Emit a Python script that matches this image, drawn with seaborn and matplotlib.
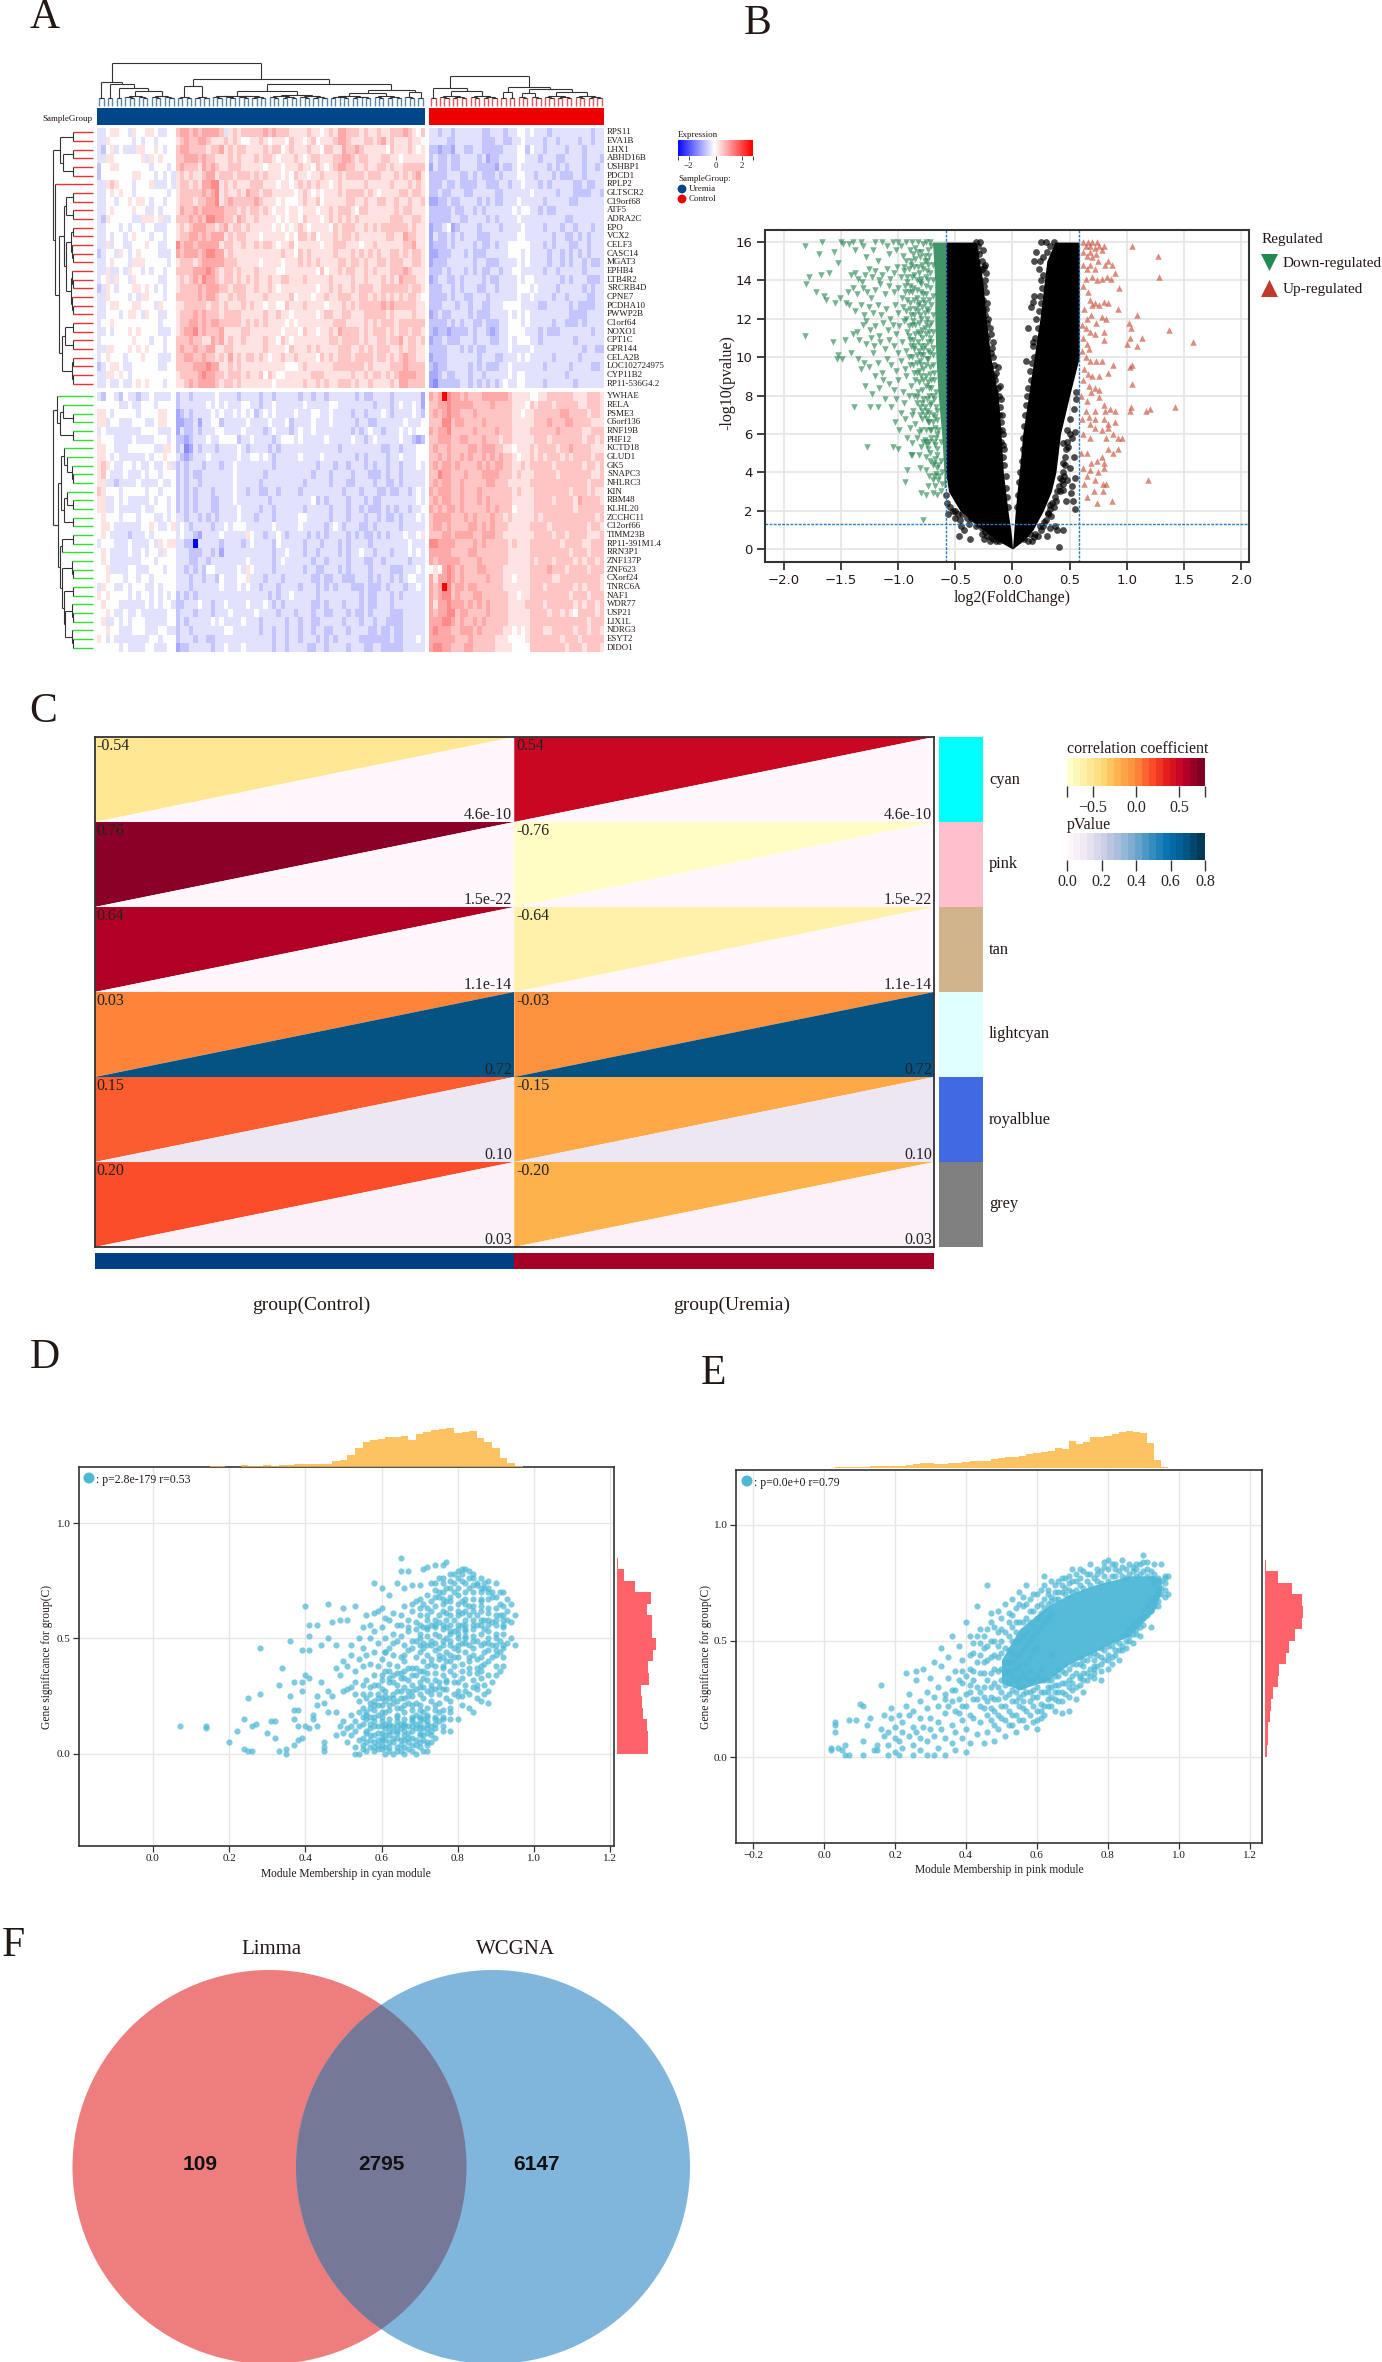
import numpy as np
import matplotlib
matplotlib.use("Agg")
import matplotlib.pyplot as plt
from matplotlib.colors import LinearSegmentedColormap, ListedColormap, Normalize
from matplotlib.cm import ScalarMappable
from matplotlib.patches import Circle, Rectangle
import seaborn as sns

W, H = 1382, 2362

# ---- panel A data: one char per cell, digit d means (d-4)*0.32, x/w strong blue, y strong red
genes_top = ["RPS11", "EVA1B", "LHX1", "ABHD16B", "USHBP1", "PDCD1", "RPLP2", "GLTSCR2", "C19orf68", "ATF5",
             "ADRA2C", "EPO", "VCX2", "CELF3", "CASC14", "MGAT3", "EPHB4", "LTB4R2", "SRCRB4D", "CPNE7",
             "PCDHA10", "PWWP2B", "C1orf64", "NOXO1", "CPT1C", "GPR144", "CELA2B", "LOC102724975", "CYP11B2",
             "RP11-536G4.2"]
genes_bottom = ["YWHAE", "RELA", "PSME3", "C6orf136", "RNF19B", "PHF12", "KCTD18", "GLUD1", "GK5", "SNAPC3",
                "NHLRC3", "KIN", "RBM48", "KLHL20", "ZCCHC11", "C12orf66", "TIMM23B", "RP11-391M1.4", "RRN3P1",
                "ZNF137P", "ZNF623", "CXorf24", "TNRC6A", "NAF1", "WDR77", "USP21", "LIX1L", "NDRG3", "ESYT2",
                "DIDO1"]

uremia_top = [
    "334554435445543344 67767677776356566 66676766655556554565 77666565565566676546 6434",
    "335444443434434444 56766776555656544 55654555465545645556 77655566567565556554 5546",
    "324534333554454344 67766665667565665 55565664565556554665 57667655555465556545 5553",
    "335544444453545444 66777676655565655 56566545556545665556 67765665556655455555 5543",
    "244554444444344434 67666576765566655 55545554555655465456 77665565566565566666 5433",
    "244444445544434343 56565567756665666 56565554546554556555 65666656665556565675 5655",
    "335654443444533343 56656577885656555 66655545545656565545 65555565555565556565 6655",
    "334545443444444434 56666676785655657 66566555554565454555 65666656545555665665 5655",
    "334434454554344344 56665667785676666 67655545444565564555 55665565566556556556 5654",
    "334544445443343444 57667677777666565 66565455455455545565 66654665555556566555 5545",
    "325444443355545334 66676768877665765 56555545455465554565 65656555555566655665 5554",
    "334443434434433344 56567776656756656 55555454545654555546 56665565656666665655 5543",
    "334344345444344344 56677676777565665 55455555454665645556 56656555555665576655 5534",
    "335344334445443344 86776777775665565 56566545564555554556 66555455655555566755 5655",
    "234435434544443334 76777678877565555 55555556554656555556 55565656565566565665 5545",
    "334544435554444434 56665677777666555 55455554555656565555 66566565566566655665 5654",
    "335334354434344344 66667778765665655 56555544555555546455 65665565655566676555 5644",
    "345354435444443344 56567687765665656 56556556655565555565 55565565556565766655 5654",
    "235434445545434344 56666767776656665 56556545555555545565 65565666556666665665 6554",
    "335444434355444344 66666767765565665 55565555564555455655 66655665656565656654 6555",
    "334554445544435444 55666665665655565 65545544655565555455 56565666667676666655 6554",
    "334443455435443344 56667676665666655 55565565545555545665 56655566666565555655 6654",
    "344544444444443444 56677676776666656 56565555454555555556 66555565656665666666 5555",
    "334344454544443334 56778676667555566 55555554555465545565 76666565666565665665 5655",
    "344444445444344344 66676655767565565 55565546545555555566 56666565566566756656 5554",
    "335544454545444344 67667667755665555 55565555465556565555 66655656566655656655 6655",
    "345444344454443334 66776676656575656 65654556556555546565 66656666566565676655 5555",
    "234554334444443344 66667778775565655 55555555444565555556 66666656555566676666 6644",
    "335545434444444444 56666787766566656 55646544555555666555 55565565665656777766 6554",
    "334334334545444344 55676777765665655 55555455555565565655 66656556555565776666 5655",
]
control_top = [
    "3323323333332233323344343332333333333233",
    "3333223333332223322334333323323333233233",
    "2212213322332222233344243323333233323333",
    "2322322333323122333344333233322333323332",
    "1322322333322221322343333332323233323323",
    "2222333223232223233344332333232223323333",
    "2223223222233222332334333232333332232233",
    "2232233322333332233333343333323332222332",
    "1122322333323232233343333323333322333333",
    "2222232233232333333434433232233333333333",
    "2222233223333232333343333333333223333333",
    "1223412333323333233334333323332332333233",
    "1322323233322233333344333333233223232333",
    "1222323333232232334444433323233322332333",
    "1122233323222333334443433332332323232333",
    "1222333333233222333343433332332323323223",
    "2223233323232233233443333323323333323333",
    "1233223233332322333343443333332323332223",
    "2223323233322332333344434333323333323233",
    "2222323322333233333343343333233233332233",
    "2223332332332233344443333223333323222233",
    "1232233332322233334343433333333322223333",
    "2222323233223222334443433333233222323333",
    "2122122223233212334444333232223333333233",
    "1223222333233322334344433233333332333333",
    "2222333232322333334333343333333333323322",
    "1222333333323332233343433333233333233333",
    "2122333332323222334333333323333323333223",
    "1123223332332333334344333333333233333333",
    "1022222332323232343344333323333332333333",
]
uremia_bottom = [
    "324432433233433334 2332333334333323 333233233333233233233 33332322333323333331 33",
    "444443343344434444 2333333434343334 433233433333343333344 33333333233323433431 44",
    "554344444344445544 1232333343433434 342343433334333443343 33323323334323333432 33",
    "553443334443345544 1122313344233333 433334333423333433343 33332332233333343334 33",
    "343333333344443334 1322323334433334 333323433323433433333 33323234332333434344 33",
    "544433334333344434 2212333433444423 343333234443433333433 33343323433333433212 33",
    "554433344444433554 2301323332333343 233332323333333333333 23333333332233233344 43",
    "554343333334344544 3212333433333343 344343233333433334333 33332323333233433344 43",
    "565433443433433453 2323332333233433 333333233333333323332 33233323233233233343 43",
    "564333433343443444 2323223333333433 333323333333333233323 33323332223233233333 45",
    "553323333433334334 2323323333333433 333233333333323333323 33223333233223233333 44",
    "654443444443443444 2323233323333433 233223323333233333333 32333233322322332343 34",
    "553343433333434434 2323233322333433 333332333333333423233 33233323223333333343 34",
    "553343333343344434 2323233322333343 333233233333323333323 33233232223232332334 34",
    "454443444344433434 3323323232333343 332333233333443333323 33233323323223233343 33",
    "455433333344543345 3432333323343444 333333433333433333234 32333223233333233333 43",
    "454333323334344444 3433213333433333 543323343233332323233 33232322323233343345 45",
    "344433343333435455 3322x33333233332 343333243333323332333 23233332333333334333 34",
    "454333343343443544 3332223323133333 333333233433323323333 23233433233323334343 33",
    "454333333344434444 3332233233333333 433333234333333233233 33233322332333332333 34",
    "445333344333444344 3323232443333343 543333233333323322333 23233332333322233343 33",
    "445444344344344444 3332332332433344 533323332333333223223 32223332323323234433 34",
    "354433434443343444 3332333333433343 433233323333233323232 33322232223233323343 33",
    "545444434344343434 2323233333333333 333332323343333323333 33333232233323233333 43",
    "454443333334343443 2233343323343333 433343232333333223233 32333232233323333333 33",
    "445433433433333344 2333233323334333 334333323332333233223 33232232333322233333 34",
    "453343434443333344 2323333343433334 333233333233233223333 32333233233222233333 34",
    "445443334443334433 2332333333344333 333233233233233233223 33233332232232233333 34",
    "543433333333443444 2333233223333333 333333233233233323232 33333222222232233343 33",
    "444443433334433344 1223333323343334 333333233233332233233 33233322332222233333 33",
]
control_bottom = [
    "767y8776766677777765555445566666655566655",
    "6677877777666676666555465666566666556665",
    "6767877666766666666554556666667766665665",
    "6668867766667666666555556667666776666555",
    "7677866666766667666555566666676666655666",
    "6677766776667666566555556665666666656656",
    "6766766667767776655455565666656676666555",
    "6676766767667676766545565656665656666566",
    "6767767666676767766556566666566666656656",
    "6687766676667777666565556666656666666556",
    "6767766766666776665555566666666666665666",
    "7677766766676666666565556666666656665655",
    "6767766766676766666555556666566665766665",
    "7676776766666767666455556666666665666666",
    "6777766676766676656555556566666666666656",
    "6776766667767676665555566665666666665665",
    "6667767777667776655555556666566566665556",
    "8877776666767666665655566666665666655666",
    "7777766667766666665555566666666656665666",
    "7677777666676666665555565666566665656656",
    "4547876766677666655555566667666566665666",
    "7577876766666766655455566666556666666665",
    "767y867767766666655555566656666665656665",
    "7678867666776666665545566666666656665666",
    "7577877767676766665555666656666665656656",
    "7677886776666766665555566665665654666656",
    "7778876766767666665555566666666666665666",
    "7877766777676666655454566655666665665665",
    "7777776667666665554444566666665666566666",
    "7887766677666665555444466666666566656665",
]

sample_names = ["Uremia", "Control"]
sample_colors = ["#00468B", "#ED0000"]

# merge heights of the dendrograms (height, left, right); an int is a small bunch of leaves
tree_uremia = (43, (24, 2, (22, 2, (18, 2, (15, 6, 6)))),
               (27, (20, 4, 4), (22, (15, 13, 14), (16, (13, 10, 7), (14, 3, 2)))))
tree_control = (30, (18, 2, (15, 7, 7)), (19, (14, 2, 2), (17, (13, 3, 3), (14, 7, 7))))
tree_left_top = (40, (33, 2, (30, 2, 2)), (38, 1, (34, (29, (27, 2, 2), (27, 5, 6)), (31, (28, 2, 2), 4))))
tree_left_bottom = (40, (36, 1, (33, (30, 1, 2), 2)),
                    (35, (32, (29, 1, (26, 1, 3)), (29, (26, 1, 2), 2)),
                     (33, (31, 2, 1), (31, 3, (29, 2, (28, 3, 3))))))

# ---- panel B data: "|log2FC|*100,-log10p*10"
fc_thr = 0.585
p_thr = 1.3
core_y = [0, 0.5, 1, 2, 3, 4, 6, 8, 10, 12, 14, 15, 16]
core_left_outer = [0, -0.15, -0.26, -0.46, -0.56, -0.585, -0.585, -0.585, -0.585, -0.585, -0.585, -0.585, -0.585]
core_left_inner = [0, -0.006, -0.015, -0.04, -0.06, -0.08, -0.10, -0.125, -0.19, -0.23, -0.26, -0.29, -0.32]
core_right_inner = [0, 0.006, 0.012, 0.025, 0.04, 0.06, 0.09, 0.14, 0.19, 0.24, 0.28, 0.30, 0.37]
core_right_outer = [0, 0.11, 0.18, 0.27, 0.34, 0.38, 0.42, 0.5, 0.585, 0.585, 0.585, 0.585, 0.585]
green_core_x = [-0.6, -0.6, -0.62, -0.65, -0.67, -0.68, -0.68, -0.7]
green_core_y = [3.2, 4, 6, 8, 10, 12, 14, 16]
down_pts = """182,158 182,111 167,160 169,154 156,155 153,149 150,160 143,159 178,142 168,143 161,144 181,138 172,134
165,132 163,130 155,128 151,131 146,128 157,108 147,109 153,101 154,99 149,99 141,102 135,99 133,94 129,85 123,81
139,74 125,74 118,74 127,53 105,53 100,52 92,41 94,35 89,49 78,15 148,159 140,160 138,156 133,160 131,158 128,152
122,156 120,160 118,150 114,160 110,158 108,154 105,160 102,156 100,160 98,158 96,153 93,160 90,156 88,160 85,157
83,160 80,155 78,159 76,160 74,156 72,160 141,143 138,144 135,141 132,139 129,143 126,146 123,142 120,145 117,140
114,143 110,146 107,141 104,144 101,147 98,142 95,145 92,139 89,148 86,143 83,147 80,141 77,150 75,145 144,134
140,136 136,133 131,136 127,134 124,131 120,135 116,138 112,133 108,137 104,134 100,136 97,131 94,137 91,134 87,136
84,131 81,139 78,133 76,137 143,127 138,124 133,127 130,122 126,126 122,123 118,127 115,122 111,125 107,120 103,127
100,123 96,126 93,120 90,125 86,122 83,127 80,120 77,128 74,124 136,113 131,117 128,119 125,114 120,116 117,111
113,118 109,114 105,117 102,112 99,116 95,119 92,113 88,117 85,112 82,118 79,114 76,118 73,113 140,112 134,109 128,107
124,110 121,106 116,108 112,104 108,109 104,106 100,102 97,108 93,103 90,109 86,104 83,108 80,101 77,106 74,103 71,108
130,97 126,95 122,102 118,97 114,92 110,99 106,96 102,93 98,98 94,94 91,100 87,96 84,92 81,98 78,94 75,99 72,95 70,101
120,90 117,84 113,88 108,86 104,83 100,88 96,82 93,90 89,85 86,80 82,87 79,83 76,90 73,84 71,88 69,92 112,78 106,74
102,78 98,71 95,76 91,80 87,72 84,76 81,70 78,78 75,72 72,75 70,80 67,74 103,66 99,62 94,68 90,63 88,70 85,65 82,61
79,68 76,62 73,66 70,70 68,63 66,67 92,58 88,55 84,58 80,53 77,57 74,52 71,58 68,54 66,60 63,56 88,49 82,49 76,48
72,50 69,45 66,49 63,46 81,42 76,41 73,38 69,38 66,42 62,40 74,33 68,33 65,36 62,34 80,29 76,28 70,29 66,28 63,30
71,158 73,153 75,150 77,153 79,148 81,152 83,155 85,151 87,154 89,150 91,146 93,150 95,147 70,148 72,144 74,148 76,142
78,146 80,138 82,144 84,140 86,147 88,142 90,137 92,142 94,134 70,140 72,136 74,140 76,133 78,130 80,134 82,128 84,135
86,130 88,134 90,128 92,130 70,132 71,127 73,130 75,125 77,123 79,126 81,122 83,124 85,125 87,119 89,122 91,116 93,124
70,122 71,118 73,116 75,120 77,115 79,110 81,112 83,113 85,117 87,109 89,106 91,111 70,113 72,110 74,108 76,112 78,104
80,106 82,103 84,101 86,106 88,100 90,96 70,105 72,102 74,99 76,96 78,101 80,96 82,93 84,97 86,92 70,96 72,91 74,87 76,85
78,88 80,90 83,82 85,88 69,88 71,84 73,80 75,78 77,74 79,76 81,74 84,79 67,82 69,78 71,76 73,71 75,68 77,70 79,72 66,72 68,69
70,66 72,62 74,66 76,56 78,56 80,62 65,62 67,58 69,56 71,62 73,56 75,54 66,52 68,47 70,44 72,46 65,44 67,39 70,36 64,38"""
up_pts = """105,158 127,153 128,142 109,122 102,118 104,115 137,114 158,108 113,110 103,110 100,107 109,106 105,96 103,95
105,86 142,74 120,73 117,72 104,74 103,72 119,36 87,25 74,24 65,27 79,30 79,34 62,160 64,158 66,160 68,158 70,160 72,157
74,160 76,158 78,156 80,158 62,155 65,153 68,155 70,152 73,154 75,150 62,148 65,146 68,148 72,146 81,148 84,150 87,148
90,144 83,142 86,141 93,136 78,141 74,140 70,142 64,141 62,137 66,134 68,130 70,127 72,128 76,127 80,129 84,128 92,125
63,125 65,120 69,122 73,118 78,121 82,120 61,117 64,115 68,113 72,112 80,113 80,109 62,110 65,107 67,104 61,103 64,100
68,98 73,98 78,98 88,96 63,94 66,91 70,90 76,90 84,92 62,88 67,85 72,84 76,79 76,83 60,80 65,77 69,82 80,75 64,72 67,69
72,72 81,72 85,73 90,72 61,68 68,65 72,68 80,68 84,65 84,63 90,66 62,60 68,58 72,63 78,62 82,58 88,60 92,58 96,58 65,50
69,45 74,46 78,48 80,45 84,52 88,50 92,52 60,50 62,42 65,38 68,41 72,36 75,40 80,42 63,34 71,30 82,34"""
black_pts = """-35,16 -32,155 -27,150 -25,147 -24,140 -26,130 -23,125 -22,118 -19,112 -17,108 -13,95 -16,90 -11,85 -15,82 -10,78 -9,70
-8,60 -7,52 -56,18 -50,20 -46,15 -42,10 -47,7 -45,12 -38,13 -37,5 -32,12 -27,8 -25,5 -20,4 -42,24 -36,21 -30,19 -24,13
-18,9 -15,10 -12,4 10,5 15,8 20,8 24,12 28,14 31,19 33,23 41,1 44,10 39,10 37,12 33,11 30,7 55,21 53,25 51,29 47,25 44,31
48,36 52,33 55,37 50,42 46,44 42,37 54,48 49,53 44,45 52,58 48,62 55,61 44,55 50,68 54,73 56,78 19,132 18,129 16,126 14,115
12,98 19,150 21,155 25,160 29,160 18,108 56,82 -28,160 -30,158 -29,154 -26,156 -27,146 -24,148 -23,144 -25,137 -23,134
-22,128 -24,122 -21,120 -20,115 -22,110 -18,105 -19,102 -17,100 -16,96 -14,92 -15,88 -13,84 -12,80 -11,74 -12,70 -10,66
-9,62 -10,56 -8,54 -8,48 -7,44 -6,38 -6,32 -5,27 -4,22 36,160 33,158 30,155 27,152 24,150 23,146 27,143 25,140 26,136 24,132
25,128 23,124 21,120 22,115 20,110 18,106 19,100 17,97 15,93 16,88 14,84 13,80 12,75 11,70 10,64 9,58 9,52 8,46 7,40 6,35
5,28 4,22 44,40 46,48 48,56 50,60 47,52 43,36 41,33 39,30 37,27 35,24 33,21 31,18 29,15 27,12 25,10 22,7 19,6 17,4 14,4 42,30
44,34 45,38 38,25 36,22 34,17 -58,28 -57,24 -55,22 -52,20 -50,16 -48,18 -44,18 -40,16 -36,16 -33,15 -30,13 -27,11 -24,9
-22,7 -19,6 -17,5 -14,4 -32,160 -34,158 -31,150 -28,145 -28,135 -26,125 -25,115 -22,100 -20,95 -18,85 -16,78 -14,72 -12,62"""

# ---- panel D / E data: "x*100,y*100"
d_hist_top_centers = [0.16, 0.18, 0.20, 0.22, 0.24, 0.26, 0.28, 0.30, 0.32, 0.34, 0.36, 0.38, 0.40, 0.42, 0.44, 0.46, 0.48,
                      0.50, 0.52, 0.54, 0.56, 0.58, 0.60, 0.62, 0.64, 0.66, 0.68, 0.70, 0.72, 0.74, 0.76, 0.78, 0.80,
                      0.82, 0.84, 0.86, 0.88, 0.90, 0.92, 0.94, 0.96]
d_hist_top = [2, 2, 1, 1, 5, 2, 3, 5, 4, 5, 6, 8, 9, 9, 9, 8, 17, 20, 35, 52, 70, 76, 78, 83, 84, 86, 75, 92, 97, 103, 106,
              108, 95, 98, 100, 80, 70, 54, 26, 10, 3]
d_hist_right_edges = [0, .05, .1, .15, .2, .25, .3, .35, .4, .45, .5, .55, .6, .65, .7, .75, .8, .85]
d_hist_right = [74, 73, 72, 62, 60, 58, 75, 73, 85, 92, 82, 84, 70, 80, 42, 16, 3]
e_hist_top_centers = [0.00, 0.02, 0.04, 0.06, 0.08, 0.10, 0.12, 0.14, 0.16, 0.18, 0.20, 0.22, 0.24, 0.26, 0.28, 0.30, 0.32,
                      0.34, 0.36, 0.38, 0.40, 0.42, 0.44, 0.46, 0.48, 0.50, 0.52, 0.54, 0.56, 0.58, 0.60, 0.62, 0.64,
                      0.66, 0.68, 0.70, 0.72, 0.74, 0.76, 0.78, 0.80, 0.82, 0.84, 0.86, 0.88, 0.90, 0.92, 0.94, 0.96,
                      0.98]
e_hist_top = [1, 1, 2, 3, 3, 4, 2, 5, 5, 6, 6, 7, 9, 10, 13, 13, 12, 12, 15, 13, 17, 20, 20, 20, 26, 29, 30, 30, 35, 39, 41,
              45, 47, 55, 53, 75, 68, 73, 86, 86, 90, 96, 100, 104, 100, 98, 70, 23, 3, 1]
e_hist_right_edges = [0, .05, .1, .15, .2, .25, .3, .35, .4, .45, .5, .55, .6, .65, .7, .75, .8, .85, .9]
e_hist_right = [5, 6, 8, 11, 14, 20, 30, 34, 50, 56, 72, 87, 90, 88, 64, 30, 3, 1]

d_pts = """7,12 14,12 14,11 20,5 22,10 24,15 24,2 25,1 26,1 26,12 27,13 25,24 28,26 28,46 30,9 31,14 32,14 32,7 33,1 35,0 35,2
37,4 38,6 39,7 37,15 33,30 34,37 36,49 36,25 37,31 39,31 39,45 37,19 38,19 38,12 40,12 41,11 42,15 42,17 43,12 45,5 45,3
45,1 40,64 41,56 43,56 41,51 41,45 44,47 46,65 47,57 46,50 48,47 50,63 53,64 49,58 51,58 39,27 40,34 41,33 44,31 43,21 43,25
45,22 46,27 47,25 48,18 46,18 49,12 50,14 50,9 48,8 51,5 51,11 52,8 53,3 53,0 54,0 55,2 56,5 57,3 58,1 59,4 60,2 61,0 61,3
62,1 63,0 64,3 65,1 66,0 67,2 68,1 69,0 70,3 71,1 72,1 73,5 55,7 56,9 57,11 58,8 59,6 60,9 61,6 62,8 63,5 64,7 65,4 66,8 67,5
68,7 69,4 70,8 71,6 72,9 73,8 74,11 75,14 76,10 78,10 80,15 52,12 53,14 54,12 55,13 56,15 57,13 58,16 59,12 60,14 61,11 62,15
63,12 64,14 65,11 66,15 67,12 68,14 69,11 70,13 71,11 72,14 73,12 74,16 75,18 52,17 54,18 55,20 56,17 57,20 58,19 59,17 60,21
61,18 62,19 63,22 64,17 65,20 66,18 67,22 68,19 69,17 70,21 71,18 72,20 73,23 74,21 75,22 76,19 77,24 78,18 54,23 53,26 56,24
57,26 58,23 59,26 60,24 61,27 62,24 63,26 64,23 65,27 66,24 67,27 68,25 69,22 70,26 71,24 72,27 73,26 74,28 75,26 76,28 77,28
78,23 80,27 79,31 81,21 83,20 84,18 85,24 86,23 88,22 50,27 51,28 52,29 53,31 55,30 56,32 57,29 58,34 59,30 60,32 61,36 62,31
63,34 64,30 65,33 66,29 67,32 68,30 69,34 70,31 71,36 72,32 73,30 74,35 75,31 76,34 77,32 78,36 79,34 80,31 81,33 82,30 83,35
84,32 85,28 86,36 87,30 88,34 89,31 90,34 91,36 92,38 48,37 49,34 50,40 51,38 52,43 53,36 54,41 55,38 56,43 57,39 58,44 59,38
60,41 61,44 62,39 63,43 64,38 65,42 66,40 67,45 68,37 69,42 70,44 71,40 72,43 73,39 74,45 75,41 76,38 77,44 78,40 79,46 80,42
81,39 82,44 83,40 84,46 85,41 86,38 87,44 88,40 89,42 90,38 91,44 92,42 52,47 54,50 55,46 57,50 58,53 59,48 60,55 61,50 62,46
63,52 64,49 65,56 66,47 67,53 68,49 69,57 70,50 71,46 72,54 73,49 74,56 75,51 76,47 77,55 78,49 79,53 80,47 81,56 82,50 83,47
84,54 85,49 86,56 87,48 88,53 89,47 90,52 91,49 92,55 93,48 94,50 95,47 55,55 56,60 57,56 58,61 59,62 60,63 61,59 62,58 63,61
64,56 65,60 66,64 67,58 68,62 69,66 70,60 71,65 72,58 73,62 74,68 75,60 76,65 77,58 78,63 79,70 80,60 81,66 82,58 83,64 84,70
85,60 86,66 87,58 88,63 89,68 90,60 91,65 92,58 93,62 94,65 95,60 94,57 58,74 60,72 62,69 64,74 65,79 66,72 67,79 68,73 71,80
72,81 74,82 75,70 76,76 77,72 78,78 79,74 80,79 81,75 82,80 83,72 84,78 85,73 86,76 87,72 88,75 89,70 90,74 91,70 73,74 74,74
70,73 75,76 76,82 77,83 65,85 68,65 70,67 72,69 70,63 73,66 75,68 77,66 78,68 80,69 82,67 84,64 86,70 88,67 92,56 91,60 90,56
89,57 87,54 85,56 83,60 81,61 79,58 77,61 75,57 73,56 71,55 69,54 67,55 65,51 63,48 61,44 60,34 62,36 64,27 66,33 68,27 70,29
72,35 74,32 76,37 78,43 80,50 82,54 84,58 86,62 88,58 90,45 87,39 85,35 83,42 81,48 79,42 77,50 75,46 73,41 71,33 69,37 67,37
65,35 63,31 61,23 59,21 57,16 55,16 53,10 58,5 60,6 62,5 64,10 66,10 68,10 70,11 72,5 74,7 60,16 62,12 64,16 66,13 68,16 70,16
72,16 74,15 76,15 78,20 80,25 82,27 84,29 86,33 88,27 56,1 57,6 58,3 59,9 60,4 61,8 62,3 63,10 64,1 65,6 66,3 67,9 68,4 69,6 70,5
71,8 72,4 56,10 58,12 60,7 62,10 64,9 66,6 68,12 70,9 72,11 55,4 57,8 59,2 61,13 63,7 65,13 67,7 69,13 71,15 73,10 54,6 58,14
60,12 62,13 64,12 66,12 68,15 70,15 72,13 74,13 76,12 56,18 58,21 60,18 62,21 64,20 66,21 68,21 70,19 72,17 74,19 76,16 78,15
55,26 57,22 59,24 61,25 63,24 65,24 67,25 69,28 71,29 73,28 75,29 77,31 79,26 81,25 83,26 85,30 87,26 58,30 60,28 62,33 64,35
66,36 68,34 70,36 72,38 74,38 76,42 78,47 80,45 82,48 84,43 86,42 88,45 90,47 92,47 66,43 68,46 70,47 72,47 74,48 76,49 78,52
80,52 82,53 84,51 86,52 88,50 90,50 92,52 70,52 72,51 74,52 76,54 78,56 80,56 82,56 84,56 86,58 88,56 90,58 92,60 93,58 72,60
74,58 76,62 78,60 80,62 82,62 84,62 86,64 88,61 90,63 92,64 93,67 72,63 74,64 76,67 78,66 80,65 82,65 84,67 86,67 88,70 90,68
92,70 76,70 78,72 80,72 82,70 84,73 86,72 88,72 74,71 76,74 78,75 80,76 82,74 84,76 81,78 83,76 85,74 87,74 79,78 81,80 83,79
70,56 72,55 74,55 76,56 78,53 80,54 82,51 84,49 86,47 88,48 90,43 92,46 85,37 83,37 81,36 79,38 77,40 75,43 73,47 71,48 69,49"""
e_core_x = [0.50, 0.55, 0.63, 0.69, 0.76, 0.81, 0.86, 0.93, 0.95]
e_core_low = [0.32, 0.29, 0.33, 0.40, 0.45, 0.49, 0.52, 0.63, 0.71]
e_core_high = [0.42, 0.55, 0.65, 0.70, 0.74, 0.76, 0.78, 0.78, 0.77]
e_pts = """2,3 2,4 3,14 3,15 3,11 4,4 5,3 6,1 6,5 7,1 7,16 9,16 10,23 11,22 11,1 11,7 12,14 13,17 14,3 15,3 15,5 16,31 16,12 17,18
17,9 18,1 18,5 18,11 19,17 19,21 20,2 20,8 20,13 21,18 21,1 21,7 22,4 22,11 22,15 23,22 23,36 24,9 24,18 24,27 25,1 25,5
25,13 25,20 26,33 26,11 26,37 27,3 27,8 27,17 27,24 28,13 28,38 29,1 29,7 29,21 29,28 30,12 30,17 30,34 31,1 31,26 31,41
31,9 32,4 32,15 32,22 32,30 33,39 33,12 33,47 34,1 34,8 34,19 34,25 35,34 35,43 36,6 36,14 36,29 36,52 37,3 37,11 37,20
37,37 38,25 38,48 39,8 39,16 39,32 39,42 40,2 40,12 40,22 40,58 41,6 41,28 41,38 41,52 42,17 42,33 42,45 43,10 43,25 43,65
44,15 44,36 44,55 45,6 45,21 45,30 45,47 46,11 46,42 46,74 47,16 47,26 47,36 47,58 48,7 48,20 48,32 48,50 49,12 49,25 49,43
49,63 50,17 50,38 50,55 51,9 51,22 51,31 51,47 52,14 52,27 52,41 52,62 53,18 53,35 53,50 53,68 54,11 54,24 54,44 54,58 55,16
55,30 55,39 55,71 56,21 56,27 56,52 56,65 57,13 57,34 57,60 57,74 58,18 58,24 58,43 58,68 59,15 59,29 59,56 59,63 60,20 60,12
60,26 60,47 60,70 61,17 61,23 61,38 61,66 62,18 62,28 62,58 62,78 63,22 63,33 63,72 64,26 64,44 64,69 65,20 65,31 65,74 66,24
66,35 66,71 67,19 67,28 67,77 68,32 68,73 69,20 69,26 69,78 70,29 70,35 71,25 71,76 72,31 72,81 73,28 73,36 74,33 74,79 75,35
75,83 76,34 76,39 77,81 78,33 78,40 79,84 80,38 80,85 81,40 82,44 82,83 83,42 84,85 85,47 86,83 87,49 88,83 89,52 90,87 91,84
92,56 93,83 94,65 95,83 96,77 96,69 97,78 97,70 92,80 94,72 88,53 86,50 84,46 80,44 76,38 72,35 90,57 34,27 35,22 36,24 37,29
38,19 38,33 39,22 39,37 40,27 40,35 41,18 41,31 41,44 42,25 42,37 42,49 43,30 43,41 43,52 44,22 44,28 44,44 44,49 45,26 45,36
45,41 45,52 46,18 46,24 46,33 46,48 46,55 47,21 47,30 47,43 47,50 47,62 48,14 48,25 48,38 48,44 48,56 49,18 49,30 49,37 49,48
49,54 50,22 50,28 50,33 50,45 50,50 50,60 51,16 51,26 51,36 51,41 51,54 51,66 52,20 52,32 52,37 52,46 52,52 52,58 53,14 53,24
53,29 53,41 53,45 53,56 53,61 54,18 54,28 54,33 54,38 54,50 54,54 54,64 55,22 55,26 55,34 55,44 55,50 55,58 55,66 56,16 56,24
56,30 56,36 56,46 56,58 56,69 57,20 57,28 57,40 57,48 57,54 57,66 58,28 58,33 58,37 58,50 58,58 58,63 59,22 59,26 59,33 59,46
59,52 59,70 60,16 60,30 60,35 60,54 60,60 60,65 61,20 61,28 61,33 61,56 61,62 61,72 62,22 62,33 62,64 62,68 62,74 63,25 63,28
63,30 63,60 63,66 63,70 64,22 64,30 64,33 64,62 64,67 64,76 65,25 65,28 65,35 65,68 65,71 66,28 66,31 66,38 66,68 66,76 67,24
67,32 67,37 67,71 67,74 68,27 68,36 68,40 68,70 68,77 69,30 69,33 69,38 69,72 69,75 70,32 70,40 70,71 70,76 70,81 71,30 71,36
71,40 71,72 71,79 72,34 72,40 72,43 72,74 72,77 73,33 73,39 73,42 73,73 73,80 74,36 74,42 74,76 75,38 75,44 75,74 75,79 76,36
76,42 76,45 76,77 77,39 77,44 77,76 77,79 78,37 78,43 78,47 78,75 78,80 79,42 79,46 79,78 79,82 80,42 80,48 80,76 80,81 81,43
81,48 81,78 81,83 82,46 82,50 82,78 82,81 83,46 83,49 83,80 84,48 84,52 84,78 84,82 85,50 85,53 85,77 85,81 86,52 86,55 86,79
87,53 87,57 87,80 87,82 88,55 88,58 88,78 88,81 89,56 89,60 89,79 89,83 90,60 90,63 90,80 90,84 91,61 91,65 91,78 91,81 92,63
92,67 92,77 93,65 93,69 93,79 93,75 94,67 94,70 94,77 95,70 95,73 95,76 96,72 96,75 96,78"""

# ---- panel C data
modules = ["cyan", "pink", "tan", "lightcyan", "royalblue", "grey"]
module_colors = ["#00FFFF", "#FFC0CB", "#D2B48C", "#E0FFFF", "#4169E1", "#808080"]
groups = ["group(Control)", "group(Uremia)"]
group_colors = ["#023E84", "#A50026"]
cor_control = [-0.54, 0.76, 0.64, 0.03, 0.15, 0.20]
cor_uremia = [0.54, -0.76, -0.64, -0.03, -0.15, -0.20]
pvalues = [4.6e-10, 1.5e-22, 1.1e-14, 0.72, 0.10, 0.03]
pvalue_labels = ["4.6e-10", "1.5e-22", "1.1e-14", "0.72", "0.10", "0.03"]

# ---- panel F data
venn_sets = ["Limma", "WCGNA"]
venn_counts = [109, 2795, 6147]

sns.set_theme(style="white")
plt.rcParams["font.family"] = ["Liberation Serif", "DejaVu Sans"]
plt.rcParams["axes.unicode_minus"] = True
ink = "#231815"
fig = plt.figure(figsize=(W / 100, H / 100), dpi=100)


def axpx(x0, y0, x1, y1):
    return fig.add_axes([x0 / W, 1 - y1 / H, (x1 - x0) / W, (y1 - y0) / H])


page = axpx(0, 0, W, H)
page.set_xlim(0, W)
page.set_ylim(H, 0)
page.axis("off")
page.set_zorder(10)


def txt(x, y, s, size=11, ha="left", va="center", **kw):
    page.text(x, y, s, fontsize=size, ha=ha, va=va, color=kw.pop("color", ink), **kw)


for letter, lx, ly in [("A", 30, 18), ("B", 744, 24), ("C", 29, 712), ("D", 30, 1358), ("E", 701, 1374), ("F", 2, 1946)]:
    txt(lx, ly, letter, size=30)


# ---- A
def decode(rows):
    mapping = {"x": -2.8, "w": -2.0, "y": 2.8}
    out = []
    for r in rows:
        r = r.replace(" ", "")
        out.append([mapping[c] if c in mapping else (int(c) - 4) * 0.32 for c in r])
    return out


def to_matrix(rows, n):
    m = []
    for row in decode(rows):
        row = (row + [0.0] * n)[:n]
        m.append(row)
    return np.array(m)


expr_cmap = LinearSegmentedColormap.from_list("expr", ["#0000FF", "#FFFFFF", "#FF0000"])
n_u, n_c = 75, 40
blocks = [((97, 128, 425, 388), uremia_top, n_u), ((429, 128, 604, 388), control_top, n_c),
          ((97, 392, 425, 652), uremia_bottom, n_u), ((429, 392, 604, 652), control_bottom, n_c)]
for rect, rows, n in blocks:
    ax = axpx(*rect)
    sns.heatmap(to_matrix(rows, n), ax=ax, cmap=expr_cmap, vmin=-2.8, vmax=2.8, cbar=False,
                xticklabels=False, yticklabels=False)

for i, g in enumerate(genes_top):
    txt(607, 128 + (i + 0.5) * 260 / 30, g, size=6.4)
for i, g in enumerate(genes_bottom):
    txt(607, 392 + (i + 0.5) * 260 / 30, g, size=6.4)

page.add_patch(Rectangle((97, 108), 328, 17, fc=sample_colors[0], lw=0))
page.add_patch(Rectangle((429, 108), 175, 17, fc=sample_colors[1], lw=0))
txt(93, 119, "SampleGroup", size=6.5, ha="right")


def bunch(n, base, step):
    if n == 1:
        return 1
    a = n // 2
    return (base + step * np.log2(n), bunch(a, base, step), bunch(n - a, base, step))


def draw_tree(tree, to_xy, leaf_color, base, step, leaf_lw=1.0):
    counter = [0]

    def walk(node):
        if isinstance(node, int):
            if node == 1:
                counter[0] += 1
                return counter[0] - 0.5, 0.0, True
            node = bunch(node, base, step)
        h, a, b = node
        pa, ha, la = walk(a)
        pb, hb, lb = walk(b)
        for p, hh, leaf in [(pa, ha, la), (pb, hb, lb)]:
            xs, ys = zip(to_xy(p, hh), to_xy(p, h))
            page.plot(xs, ys, color=leaf_color if leaf else "#333333", lw=leaf_lw if leaf else 0.8,
                      solid_capstyle="butt")
        xs, ys = zip(to_xy(pa, h), to_xy(pb, h))
        page.plot(xs, ys, color="#333333", lw=0.8, solid_capstyle="butt")
        return (pa + pb) / 2, h, False

    walk(tree)


draw_tree(tree_uremia, lambda p, h: (97 + p * 328 / n_u, 106 - h), "#5B86B0", 7.5, 0.8)
draw_tree(tree_control, lambda p, h: (429 + p * 175 / n_c, 106 - h), "#E8545A", 7.5, 0.8)
draw_tree(tree_left_top, lambda p, h: (93 - h, 128 + p * 260 / 30), "#EE3030", 19, 1.2)
draw_tree(tree_left_bottom, lambda p, h: (93 - h, 392 + p * 260 / 30), "#30E030", 19, 1.2)

txt(678, 135, "Expression", size=6.5)
cax = axpx(678, 140, 753, 156)
cb = fig.colorbar(ScalarMappable(Normalize(-2.8, 2.8), expr_cmap), cax=cax, orientation="horizontal")
cb.set_ticks([-2.8, -2, 0, 2, 2.8], labels=["", "\u22122", "0", "2", ""])
cb.ax.tick_params(labelsize=6.5, length=3, width=0.6, pad=1, direction="out", bottom=True)
cb.outline.set_visible(False)
cb.solids.set_edgecolor("face")
txt(678, 179, "SampleGroup:", size=6.5)
for name, col, yy in zip(sample_names, sample_colors, [189, 199]):
    page.add_patch(Circle((682, yy), 4.4, fc=col, lw=0))
    txt(689, yy, name, size=6.5)


# ---- B
def pts(s, sx, sy):
    arr = np.array([p.split(",") for p in s.split()], dtype=float)
    return arr[:, 0] / sx, arr[:, 1] / sy


axb = axpx(765, 230, 1249, 562)
axb.set_xlim(-2.166, 2.07)
axb.set_ylim(-0.68, 16.63)
axb.set_xticks([-2, -1.5, -1, -0.5, 0, 0.5, 1, 1.5, 2])
axb.set_yticks(range(0, 17, 2))
axb.grid(True, color="#E4E4E4", lw=1.2)
axb.set_axisbelow(True)
dx, dy = pts(down_pts, -100, 10)
ux, uy = pts(up_pts, 100, 10)
kx, ky = pts(black_pts, 100, 10)
green = "#2D8A57"
red = "#C8503C"
axb.fill_betweenx(green_core_y, green_core_x, -0.585, color=green, lw=0, alpha=0.9)
sns.scatterplot(x=dx, y=dy, ax=axb, color=green, marker="v", s=22, alpha=0.65, linewidth=0, legend=False)
sns.scatterplot(x=ux, y=uy, ax=axb, color=red, marker="^", s=22, alpha=0.65, linewidth=0, legend=False)
axb.fill_betweenx(core_y, core_left_outer, core_left_inner, color="black", lw=0)
axb.fill_betweenx(core_y, core_right_inner, core_right_outer, color="black", lw=0)
sns.scatterplot(x=kx, y=ky, ax=axb, color="black", s=24, alpha=0.7, linewidth=0, legend=False)
for v in [-fc_thr, fc_thr]:
    axb.axvline(v, color="#2B7BBA", lw=1, ls=(0, (2, 1)))
axb.axhline(p_thr, color="#2B7BBA", lw=1, ls=(0, (2, 1)))
for s in axb.spines.values():
    s.set_color("#333333")
    s.set_linewidth(1.5)
axb.tick_params(length=6, width=1.3, color="#333333", bottom=True, left=True, labelsize=9.5, pad=3)
for t in axb.get_xticklabels() + axb.get_yticklabels():
    t.set_family("DejaVu Sans")
    t.set_color(ink)
txt(1012, 598, "log2(FoldChange)", size=11.5, ha="center")
txt(727, 383, "-log10(pvalue)", size=11.5, ha="center", rotation=90)
txt(1262, 240, "Regulated", size=11)
page.scatter([1269.5], [262], marker="v", s=150, color="#218A50", lw=0)
page.scatter([1269.5], [288], marker="^", s=150, color="#C0392B", lw=0)
txt(1283, 264, "Down-regulated", size=11)
txt(1283, 290, "Up-regulated", size=11)

# ---- C
cor_cmap = plt.get_cmap("YlOrRd").resampled(20)
p_cmap = plt.get_cmap("PuBu").resampled(20)
cor_norm = Normalize(-0.8, 0.8)
p_norm = Normalize(0, 0.8)
axc = axpx(94.5, 737, 934, 1247)
axc.set_xlim(0, 2)
axc.set_ylim(6, 0)
axc.set_xticks([])
axc.set_yticks([])
for col, cors in enumerate([cor_control, cor_uremia]):
    for row, (c, p, lab) in enumerate(zip(cors, pvalues, pvalue_labels)):
        cc = plt.get_cmap("YlOrRd")(cor_norm(c))
        pc = plt.get_cmap("PuBu")(p_norm(p))
        axc.fill([col, col + 1, col], [row, row, row + 1], color=cc, lw=0)
        axc.fill([col + 1, col + 1, col], [row, row + 1, row + 1], color=pc, lw=0)
        axc.text(col + 0.005, row + 0.11, f"{c:.2f}", fontsize=11.5, va="center", ha="left", color="#222222")
        axc.text(col + 0.995, row + 0.92, lab, fontsize=11.5, va="center", ha="right", color="#222222")
for s in axc.spines.values():
    s.set_color("#333333")
    s.set_linewidth(1.3)
    s.set_visible(True)

axm = axpx(939, 737, 983, 1247)
sns.heatmap(np.arange(6).reshape(-1, 1), ax=axm, cmap=ListedColormap(module_colors), cbar=False,
            xticklabels=False, yticklabels=False)
for i, m in enumerate(modules):
    txt(989, 737 + (i + 0.5) * 85, m, size=11.8)
axg = axpx(94.5, 1253, 934, 1269)
sns.heatmap(np.array([[0, 1]]), ax=axg, cmap=ListedColormap(group_colors), cbar=False,
            xticklabels=False, yticklabels=False)
txt(311, 1305, groups[0], size=14, ha="center")
txt(732, 1305, groups[1], size=14, ha="center")

txt(1067, 749, "correlation coefficient", size=11.5)
cax = axpx(1067, 758, 1205, 786)
cb = fig.colorbar(ScalarMappable(cor_norm, cor_cmap), cax=cax, orientation="horizontal")
cb.set_ticks([-0.8, -0.5, 0, 0.5, 0.8], labels=["", "\u22120.5", "0.0", "0.5", ""])
cb.ax.tick_params(labelsize=11.5, length=8, width=1, pad=2, bottom=True, color="#333333")
cb.outline.set_visible(False)
cb.solids.set_edgecolor("face")
txt(1067, 825, "pValue", size=11.5)
cax = axpx(1067, 833, 1205, 860)
cb = fig.colorbar(ScalarMappable(p_norm, p_cmap), cax=cax, orientation="horizontal")
cb.set_ticks([0, 0.2, 0.4, 0.6, 0.8])
cb.ax.tick_params(labelsize=11.5, length=8, width=1, pad=2, bottom=True, color="#333333")
cb.outline.set_visible(False)
cb.solids.set_edgecolor("face")


# ---- D and E
def joint(rect, xlim, ylim, xticks, top_rect, top_max, right_rect, right_max):
    ax = axpx(*rect)
    ax.set_xlim(*xlim)
    ax.set_ylim(*ylim)
    ax.set_xticks(xticks)
    ax.set_yticks([0, 0.5, 1.0])
    ax.grid(True, color="#E6E6E6", lw=1)
    ax.set_axisbelow(True)
    for name, s in ax.spines.items():
        s.set_color("#333333")
        s.set_linewidth(1.2)
    ax.tick_params(length=4, width=0.9, color="#333333", bottom=True, left=True, labelsize=8, pad=2, labelcolor=ink)
    top = axpx(*top_rect)
    right = axpx(*right_rect)
    return ax, top, right


def finish_hist(top, top_max, right, right_max, xlim, ylim):
    top.set_xlim(*xlim)
    top.set_ylim(0, top_max)
    top.axis("off")
    right.set_ylim(*ylim)
    right.set_xlim(0, right_max)
    right.axis("off")


point_col = "#4DB8D6"
d_xlim, d_ylim = (-0.194, 1.21), (-0.40, 1.243)
axd, topd, rightd = joint((79, 1467, 614, 1846), d_xlim, d_ylim, [0, 0.2, 0.4, 0.6, 0.8, 1.0, 1.2],
                          (79, 1420, 614, 1467), 131.6, (617, 1467, 660, 1846), 102)
xd, yd = pts(d_pts, 100, 100)
sns.scatterplot(x=xd, y=yd, ax=axd, color=point_col, s=20, alpha=0.72, linewidth=0, legend=False)
edges = (np.array(d_hist_top_centers) - 0.01).tolist() + [d_hist_top_centers[-1] + 0.01]
sns.histplot(x=d_hist_top_centers, weights=d_hist_top, bins=edges, ax=topd, color="#FDB53C", alpha=0.8, linewidth=0)
sns.histplot(y=np.array(d_hist_right_edges[:-1]) + 0.025, weights=d_hist_right, bins=d_hist_right_edges, ax=rightd,
             color="#FF3B42", alpha=0.8, linewidth=0)
finish_hist(topd, 131.6, rightd, 102, d_xlim, d_ylim)

e_xlim, e_ylim = (-0.248, 1.234), (-0.37, 1.236)
axe, tope, righte = joint((736, 1470, 1262, 1843), e_xlim, e_ylim, [-0.2, 0, 0.2, 0.4, 0.6, 0.8, 1.0, 1.2],
                          (736, 1420, 1262, 1468), 134.4, (1265, 1470, 1310, 1843), 107)
xe, ye = pts(e_pts, 100, 100)
axe.fill_between(e_core_x, e_core_low, e_core_high, color=point_col, lw=0, alpha=0.95)
sns.scatterplot(x=xe, y=ye, ax=axe, color=point_col, s=20, alpha=0.72, linewidth=0, legend=False)
edges = (np.array(e_hist_top_centers) - 0.01).tolist() + [e_hist_top_centers[-1] + 0.01]
sns.histplot(x=e_hist_top_centers, weights=e_hist_top, bins=edges, ax=tope, color="#FDB53C", alpha=0.8, linewidth=0)
sns.histplot(y=np.array(e_hist_right_edges[:-1]) + 0.025, weights=e_hist_right, bins=e_hist_right_edges, ax=righte,
             color="#FF3B42", alpha=0.8, linewidth=0)
finish_hist(tope, 134.4, righte, 107, e_xlim, e_ylim)

page.add_patch(Circle((89, 1478), 5.5, fc=point_col, lw=0))
txt(96, 1480, ": p=2.8e-179 r=0.53", size=8.5)
txt(346, 1874, "Module Membership in cyan module", size=8.3, ha="center")
txt(47, 1657, "Gene significance for group(C)", size=8.3, ha="center", rotation=90)
page.add_patch(Circle((747, 1481), 5.5, fc=point_col, lw=0))
txt(754, 1483, ": p=0.0e+0 r=0.79", size=8.5)
txt(999, 1870, "Module Membership in pink module", size=8.3, ha="center")
txt(706, 1657, "Gene significance for group(C)", size=8.3, ha="center", rotation=90)

# ---- F
red_c = Circle((269.5, 2167), 197, fc="#EE7D7D", lw=0)
blue_c = Circle((493, 2167), 197, fc="#80B6DB", lw=0)
page.add_patch(red_c)
page.add_patch(blue_c)
lens = Circle((493, 2167), 197, fc="#767898", lw=0)
page.add_patch(lens)
lens.set_clip_path(Circle((269.5, 2167), 197, transform=page.transData))
txt(271, 1950, venn_sets[0], size=15, ha="center")
txt(515, 1950, venn_sets[1], size=15, ha="center")
for cnt, cx in zip(venn_counts, [200, 381.5, 537]):
    txt(cx, 2165, str(cnt), size=15, ha="center", family="Liberation Sans", fontweight="bold", color="#111111")

fig.savefig("out.png", dpi=100)
